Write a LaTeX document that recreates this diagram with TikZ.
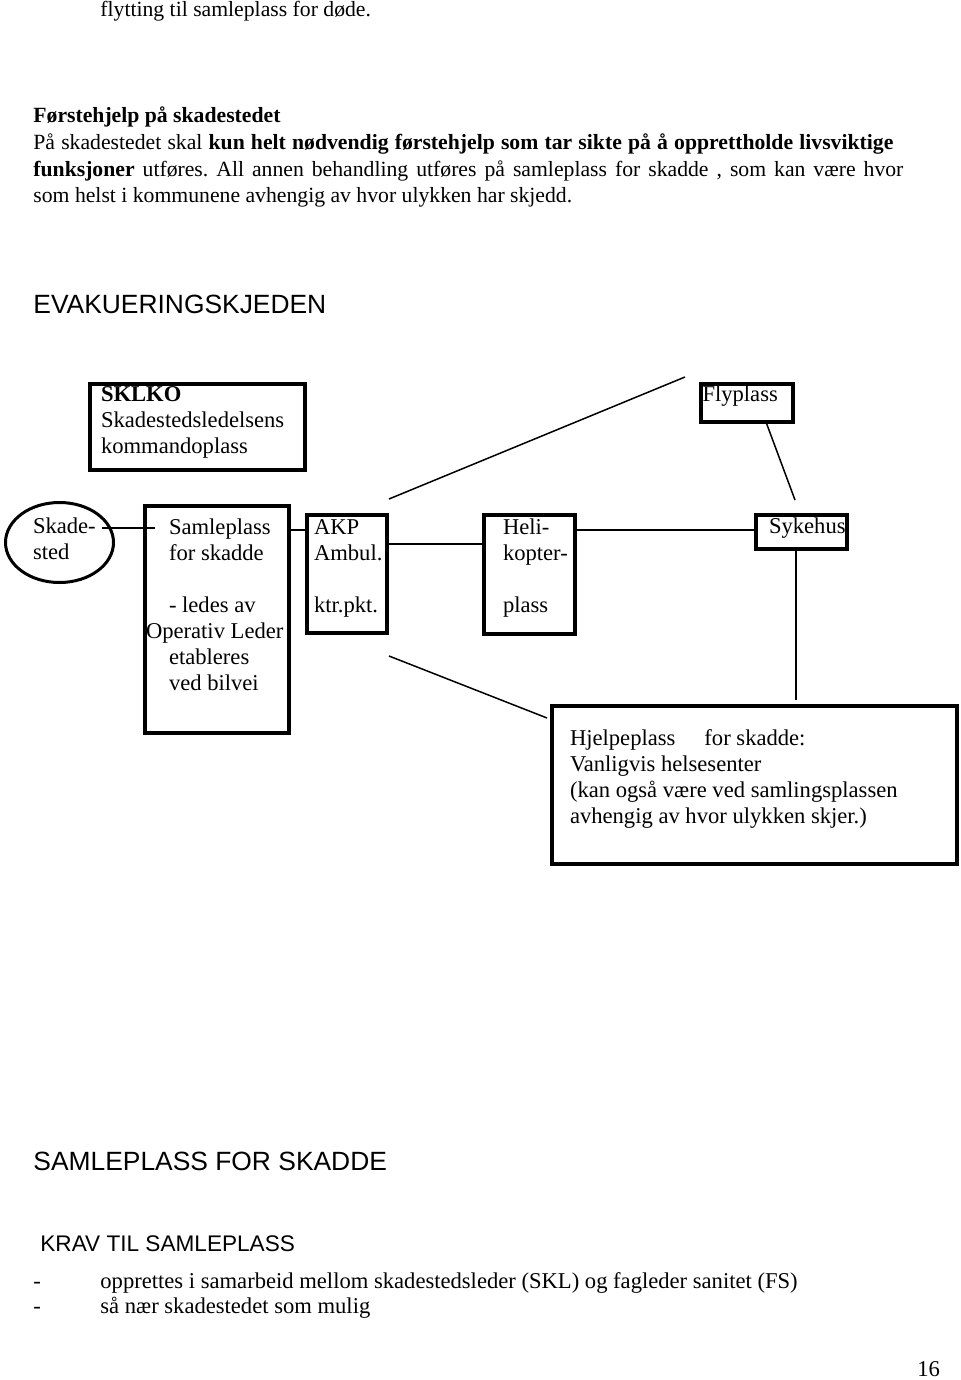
\documentclass[tikz,border=0pt]{standalone}
\usepackage{fontspec}
\setmainfont{Liberation Serif}
\setsansfont{Liberation Sans}
\usepackage{tikz}
\usetikzlibrary{shapes.geometric}

% text block that starts at the top of a box
\newcommand{\boxtext}[3]{\parbox[c][#1][t]{#2}{\raggedright\rule{0pt}{8pt}#3}}

\begin{document}
\frenchspacing
\begin{tikzpicture}[x=0.5pt, y=-0.5pt, font=\fontsize{11.3pt}{13pt}\selectfont]
	\tikzstyle{plain} = [anchor=base west, inner sep=0pt]
	\tikzstyle{intro} = [anchor=base west, inner sep=0pt, font=\fontsize{10.85pt}{13pt}\selectfont]
	\tikzstyle{heading} = [anchor=base west, inner sep=0pt, font=\fontsize{13.2pt}{15pt}\selectfont\sffamily]
	\tikzstyle{place} = [rectangle, draw=black, line width=2pt, anchor=north west, align=left]
	\tikzstyle{site} = [ellipse, draw=black, line width=1.5pt, minimum width=54pt, minimum height=40pt, inner sep=0pt, text width=26.5pt, align=left]
	\tikzstyle{link} = [line width=0.75pt]

	\useasboundingbox (0,0) rectangle (960,1380);

	% Text above the chain
	\node (intro0) [intro] at (100,17) {flytting til samleplass for døde.};
	\node (intro1) [intro] at (33,123) {\textbf{Førstehjelp på skadestedet}};
	\node (intro2) [intro] at (33,149.7) {\makebox[430pt][s]{På skadestedet skal \textbf{kun helt nødvendig førstehjelp som tar sikte på å opprettholde livsviktige}}};
	\node (intro3) [intro] at (33,176.4) {\makebox[435pt][s]{\textbf{funksjoner} utføres. All annen behandling utføres på samleplass for skadde , som kan være hvor}};
	\node (intro4) [intro] at (33,203) {som helst i kommunene avhengig av hvor ulykken har skjedd.};
	\node (title) [heading] at (33,313) {EVAKUERINGSKJEDEN};

	% The chain
	\node (sklko) [place, inner xsep=5.5pt, inner ysep=0.5pt] at (88,382) {\boxtext{42pt}{96.5pt}{\textbf{SKLKO}\\Skadestedsledelsens\\kommandoplass}};
	\node (flyplass) [place, inner xsep=0.75pt, inner ysep=0.5pt] at (699,382) {\boxtext{18pt}{44.5pt}{Flyplass}};
	\node (skadested) [site] at (59.5,542.5) {\mbox{Skade-}\\\mbox{sted}\strut};
	\node (samleplass) [place, inner xsep=12pt, inner ysep=6pt] at (143,504) {\boxtext{101.5pt}{48pt}{Samleplass\\for skadde\\[13pt]- ledes av\\\hspace*{-11.5pt}\mbox{Operativ Leder}\\etableres\\ved bilvei}};
	\node (akp) [place, inner xsep=3.5pt, inner ysep=1.5pt] at (305,513) {\boxtext{56pt}{33pt}{AKP\\\mbox{Ambul.}\\[13pt]\mbox{ktr.pkt.}}};
	\node (heli) [place, inner xsep=9.5pt, inner ysep=1.5pt] at (482,513) {\boxtext{56.5pt}{26.5pt}{\mbox{Heli-}\\\mbox{kopter-}\\[13pt]plass}};
	\node (sykehus) [place, inner xsep=6.5pt, inner ysep=1pt] at (754,513) {\boxtext{15pt}{32.5pt}{\mbox{Sykehus}}};
	\node (hjelpeplass) [place, inner xsep=9pt, inner ysep=11.5pt] at (550,704) {\boxtext{56pt}{184.5pt}{Hjelpeplass\hspace{14.5pt}for skadde:\\Vanligvis helsesenter\\(kan også være ved samlingsplassen\\avhengig av hvor ulykken skjer.)}};

	% Lines
	\draw [link] ([shift={(-6.75pt,7.25pt)}]skadested.east) -- ([shift={(6pt,-12pt)}]samleplass.north west);
	\draw [link] ([yshift=22pt]akp.west) -- ([yshift=22pt]akp.west -| samleplass.east);
	\draw [link] ([yshift=15pt]akp.east) -- ([yshift=15pt]akp.east -| heli.west);
	\draw [link] ([yshift=22.25pt]heli.east) -- ([yshift=22.25pt]heli.east -| sykehus.west);
	\draw [link] ([yshift=7pt]akp.north east) -- ([shift={(-7pt,2.5pt)}]flyplass.north west);
	\draw [link] ([yshift=-10.5pt]akp.south east) -- ([shift={(-1.5pt,-7pt)}]hjelpeplass.north west);
	\draw [link] ([shift={(33.5pt,1pt)}]flyplass.south west) -- ([shift={(-3.25pt,6.5pt)}]sykehus.north);
	\draw [link] ([shift={(-2.75pt,2pt)}]sykehus.south) -- ([shift={(-2.75pt,2pt)}]sykehus.south |- hjelpeplass.north);

	% Text below the chain
	\node (title2) [heading] at (33,1170) {SAMLEPLASS FOR SKADDE};
	\node (krav) [heading, font=\fontsize{11.3pt}{13pt}\selectfont\sffamily] at (40,1251) {KRAV TIL SAMLEPLASS};
	\node (dash1) [plain] at (33,1288) {-};
	\node (krav1) [plain] at (100,1288) {opprettes i samarbeid mellom skadestedsleder (SKL) og fagleder sanitet (FS)};
	\node (dash2) [plain] at (33,1313) {-};
	\node (krav2) [plain] at (100,1313) {så nær skadestedet som mulig};
	\node (page) [plain] at (917,1376) {16};
\end{tikzpicture}
\end{document}
